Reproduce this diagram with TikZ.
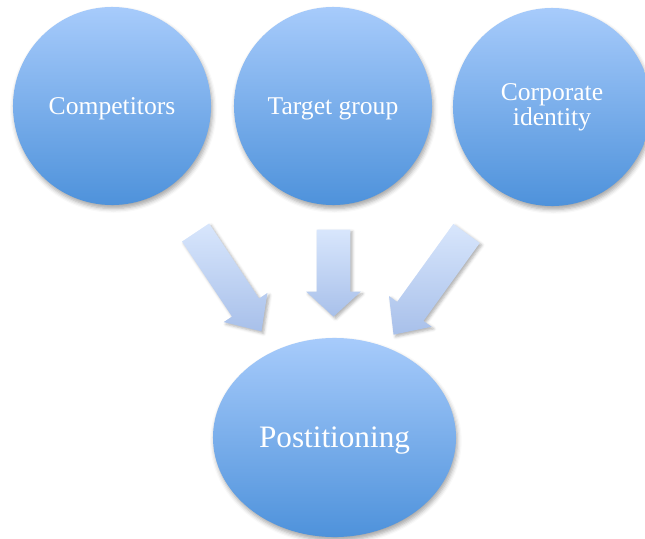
\documentclass[tikz,border=0pt]{standalone}
\usepackage{fontspec}
\setmainfont{Liberation Serif}
\usepackage{tikz}
\usetikzlibrary{shapes.geometric, shapes.arrows, shadows.blur}

\definecolor{bubbleTop}{RGB}{167,203,251}
\definecolor{bubbleBottom}{RGB}{78,146,219}
\definecolor{arrowTail}{RGB}{216,230,252}
\definecolor{arrowHead}{RGB}{168,192,234}

\tikzset{
    bubble/.style={circle, minimum size=4.95cm, inner sep=0pt,
        top color=bubbleTop, bottom color=bubbleBottom, text=white, align=center,
        font=\fontsize{18.2}{16.4}\selectfont,
        blur shadow={shadow xshift=1pt, shadow yshift=-2.5pt, shadow blur radius=3pt, shadow opacity=35}},
    feeder/.style={single arrow, anchor=tip, inner xsep=0pt, inner ysep=0.4cm, single arrow tip angle=85,
        single arrow head extend=0.25cm, top color=arrowTail, bottom color=arrowHead,
        blur shadow={shadow xshift=1.5pt, shadow yshift=-1.5pt, shadow blur radius=2pt, shadow opacity=30}}
}

\begin{document}
\begin{tikzpicture}[x=0.025cm, y=-0.025cm]
    \useasboundingbox (0, 0) rectangle (645, 539);

    % the three inputs
    \node [bubble, text depth=0pt] (comp) at (112, 106){Competitors};
    \node [bubble, text depth=0pt] (target) at (333, 106){Target group};
    \node [bubble] (corp) at (552, 107){Corporate\\identity};

    % block arrows, placed by their tips
    \node [feeder, minimum height=2.97cm, rotate=-56.3] (feedA) at (261.7, 331.7){};
    \node [feeder, minimum height=2.175cm, inner ysep=0.4125cm, single arrow head extend=0.2625cm,
        single arrow tip angle=95, rotate=-90] (feedB) at (333.5, 317){};
    \node [feeder, minimum height=3.12cm, rotate=-125.8] (feedC) at (393.3, 335){};

    % the result
    \node [bubble, ellipse, minimum width=6.075cm, minimum height=4.975cm, text depth=0pt,
        font=\fontsize{22.2}{24}\selectfont] (pos) at (334.5, 437.5){Postitioning};
\end{tikzpicture}
\end{document}
